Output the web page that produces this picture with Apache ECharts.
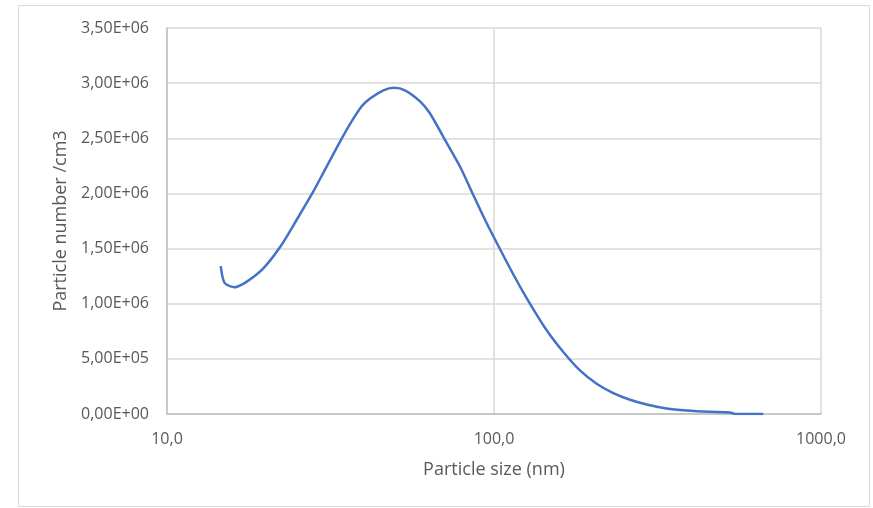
<!DOCTYPE html>
<html>
<head>
<meta charset="utf-8">
<script src="https://cdn.jsdelivr.net/npm/echarts@6/dist/echarts.min.js"></script>
<style>
  html, body { margin: 0; padding: 0; background: #fff; }
  #chart { width: 873px; height: 508px; }
</style>
</head>
<body>
<div id="chart"></div>
<script>
// particle size (nm) and particle number (/cm3)
const sizes = [14.6, 15.0, 16.1, 17.5, 19.7, 22.2, 24.9, 28.0, 30.4, 33.4, 36.3, 39.4, 41.8,
  45.9, 49.5, 53.4, 59.4, 63.6, 70.8, 78.7, 86.0, 92.5, 100, 114.6, 126.5, 144.9,
  162.9, 183.2, 206, 231.6, 260.5, 293, 337, 388, 457, 527, 546, 666]
const counts = [1.341e6, 1.189e6, 1.150e6, 1.198e6, 1.320e6, 1.516e6, 1.759e6, 2.016e6,
  2.214e6, 2.440e6, 2.630e6, 2.790e6, 2.860e6, 2.935e6, 2.958e6, 2.935e6, 2.835e6,
  2.729e6, 2.486e6, 2.244e6, 2.000e6, 1.800e6, 1.600e6, 1.265e6, 1.040e6, 0.759e6, 0.562e6,
  0.395e6, 0.274e6, 0.189e6, 0.129e6, 0.086e6, 0.050e6, 0.032e6, 0.020e6, 0.014e6, 0, 0]

const xName = 'Particle size (nm)'
const yName = 'Particle number /cm3'

const font = '"Open Sans", sans-serif'
const textColor = '#595959'

function sciLabel(v) {
  if (v === 0) return '0,00E+00'
  const exp = Math.floor(Math.log10(v))
  const mant = (v / Math.pow(10, exp)).toFixed(2).replace('.', ',')
  return mant + 'E+' + String(exp).padStart(2, '0')
}

const chart = echarts.init(document.getElementById('chart'))
chart.setOption({
  animation: false,
  graphic: [{
    type: 'rect',
    shape: { x: 18.5, y: 5.5, width: 851, height: 501 },
    style: { fill: 'none', stroke: '#d9d9d9', lineWidth: 1 },
    silent: true
  }],
  grid: { left: 167, right: 52, top: 28, bottom: 94 },
  xAxis: {
    type: 'log',
    logBase: 10,
    min: 10,
    max: 1000,
    name: xName,
    nameLocation: 'middle',
    nameGap: 47,
    nameTextStyle: { color: textColor, fontSize: 18, fontFamily: font },
    axisLine: { show: true, lineStyle: { color: '#bfbfbf', width: 1.5 } },
    axisTick: { show: false },
    minorTick: { show: false },
    axisLabel: {
      color: textColor, fontSize: 16, fontFamily: font, margin: 17,
      formatter: v => Number(v).toFixed(1).replace('.', ',')
    },
    splitLine: { show: true, lineStyle: { color: '#d9d9d9', width: 1.5 } }
  },
  yAxis: {
    type: 'value',
    min: 0,
    max: 3500000,
    interval: 500000,
    name: yName,
    nameLocation: 'middle',
    nameGap: 97,
    nameTextStyle: { color: textColor, fontSize: 18, fontFamily: font },
    axisLine: { show: true, lineStyle: { color: '#bfbfbf', width: 1.5 } },
    axisTick: { show: false },
    axisLabel: {
      color: textColor, fontSize: 16, fontFamily: font, margin: 18,
      formatter: sciLabel
    },
    splitLine: { show: true, lineStyle: { color: '#d9d9d9', width: 1.5 } }
  },
  series: [{
    type: 'line',
    data: sizes.map((s, i) => [s, counts[i]]),
    showSymbol: false,
    smooth: 0.25,
    lineStyle: { color: '#4472C4', width: 2.5 }
  }]
})
</script>
</body>
</html>
